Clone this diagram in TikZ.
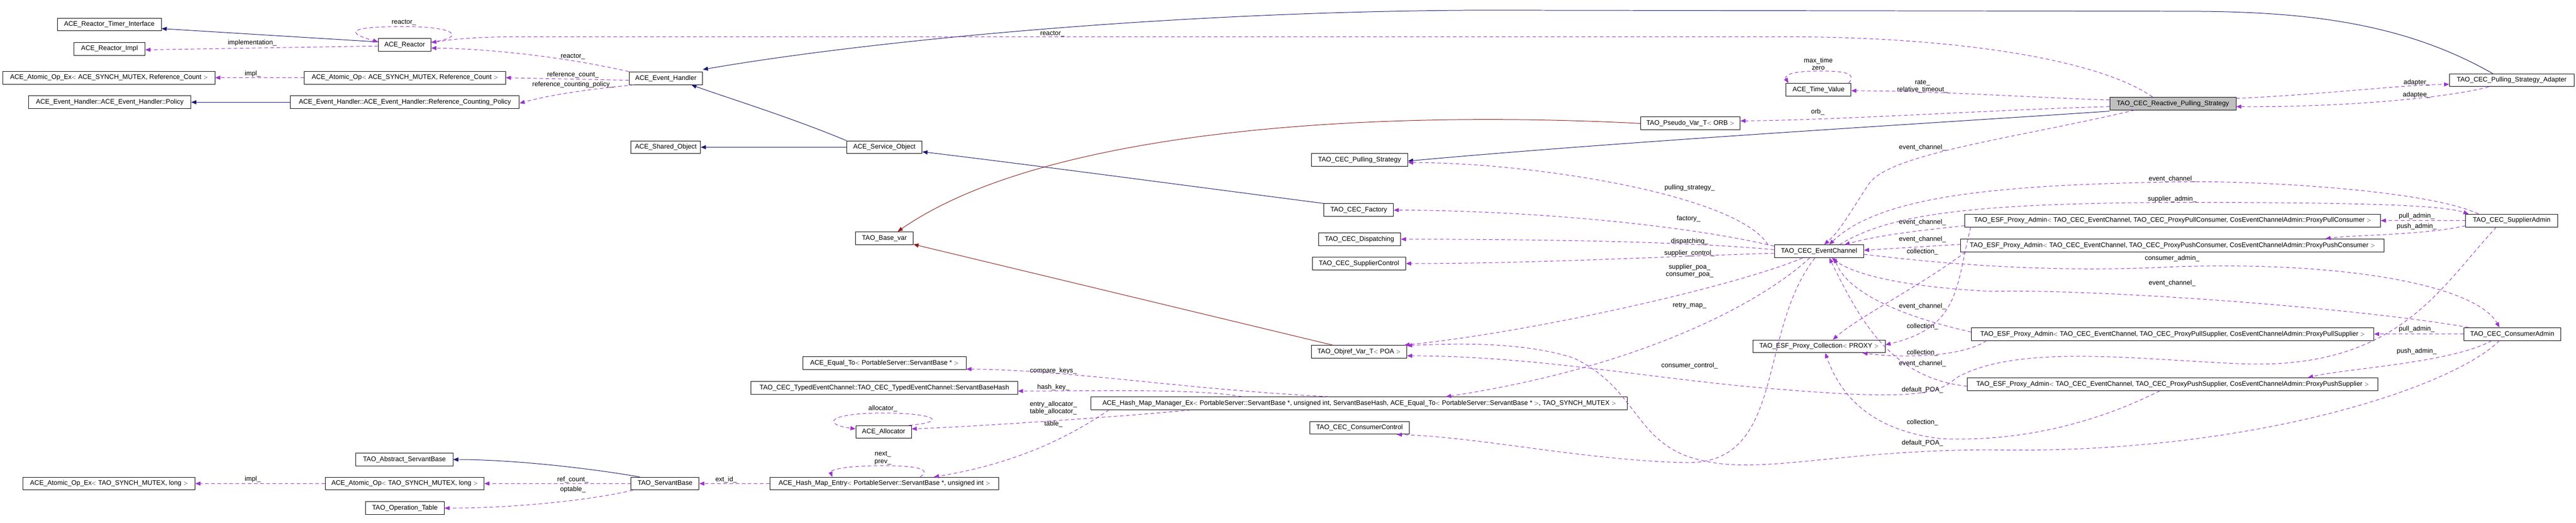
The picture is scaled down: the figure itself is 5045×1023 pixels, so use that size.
\documentclass[tikz,border=0pt]{standalone}
\usepackage{fontspec}
\setmainfont{Liberation Sans}
\usetikzlibrary{arrows.meta}
\definecolor{inhc}{RGB}{25,25,112}
\definecolor{usec}{RGB}{154,50,205}
\definecolor{tplc}{RGB}{139,26,26}
\definecolor{graybox}{RGB}{191,191,191}
\begin{document}
\begin{tikzpicture}[x=1pt,y=-1pt,
  box/.style={draw=black,line width=1pt,fill=white,minimum height=25pt,inner xsep=2pt,inner ysep=0pt,font=\fontsize{13}{15}\selectfont},
  lbl/.style={inner sep=0pt,align=center,font=\fontsize{13}{14.5}\selectfont},
  inh/.style={draw=inhc,line width=1pt,-{Triangle[length=10pt,width=8pt]}},
  tpl/.style={draw=tplc,line width=1pt,-{Triangle[length=10pt,width=8pt]}},
  use/.style={draw=usec,line width=1pt,dash pattern=on 7pt off 5pt,-{Triangle[length=10pt,width=8pt,fill=usec]}}]
\useasboundingbox (0,0) rectangle (5045,1023);
% nodes
\node[box,minimum width=204pt] (RTI) at (214,48) {ACE\_Reactor\_Timer\_Interface};
\node[box,minimum width=139pt] (RImpl) at (214.5,95.5) {ACE\_Reactor\_Impl};
\node[box,minimum width=103pt] (Reactor) at (792.5,88) {ACE\_Reactor};
\node[box,minimum width=415pt] (AOExA) at (213.5,152) {ACE\_Atomic\_Op\_Ex$<$ ACE\_SYNCH\_MUTEX, Reference\_Count $>$};
\node[box,minimum width=394pt] (AOA) at (793,152) {ACE\_Atomic\_Op$<$ ACE\_SYNCH\_MUTEX, Reference\_Count $>$};
\node[box,minimum width=318pt] (Policy) at (215,200) {ACE\_Event\_Handler::ACE\_Event\_Handler::Policy};
\node[box,minimum width=448pt] (RCP) at (793,200) {ACE\_Event\_Handler::ACE\_Event\_Handler::Reference\_Counting\_Policy};
\node[box,minimum width=144pt] (EH) at (1304,153) {ACE\_Event\_Handler};
\node[box,minimum width=136pt] (Shared) at (1304,288) {ACE\_Shared\_Object};
\node[box,minimum width=148pt] (Service) at (1732,288) {ACE\_Service\_Object};
\node[box,minimum width=113pt] (BaseVar) at (1732,466) {TAO\_Base\_var};
\node[box,minimum width=190pt] (AbsSB) at (792,899) {TAO\_Abstract\_ServantBase};
\node[box,minimum width=337pt] (AOExT) at (213.5,946) {ACE\_Atomic\_Op\_Ex$<$ TAO\_SYNCH\_MUTEX, long $>$};
\node[box,minimum width=311pt] (AOT) at (792.5,946) {ACE\_Atomic\_Op$<$ TAO\_SYNCH\_MUTEX, long $>$};
\node[box,minimum width=154pt] (OpT) at (793,994) {TAO\_Operation\_Table};
\node[box,minimum width=133pt] (SB) at (1302.5,946) {TAO\_ServantBase};
\node[box,minimum width=320pt] (EqTo) at (1732,710) {ACE\_Equal\_To$<$ PortableServer::ServantBase * $>$};
\node[box,minimum width=522pt] (SBHash) at (1732,759) {TAO\_CEC\_TypedEventChannel::TAO\_CEC\_TypedEventChannel::ServantBaseHash};
\node[box,minimum width=109pt] (Alloc) at (1730.5,845) {ACE\_Allocator};
\node[box,minimum width=448pt] (HEntry) at (1732,946) {ACE\_Hash\_Map\_Entry$<$ PortableServer::ServantBase *, unsigned int $>$};
\node[box,minimum width=1050pt] (HMgr) at (2662,789) {ACE\_Hash\_Map\_Manager\_Ex$<$ PortableServer::ServantBase *, unsigned int, ServantBaseHash, ACE\_Equal\_To$<$ PortableServer::ServantBase * $>$, TAO\_SYNCH\_MUTEX $>$};
\node[box,minimum width=189pt] (PullStrat) at (2662.5,313) {TAO\_CEC\_Pulling\_Strategy};
\node[box,minimum width=136pt] (Factory) at (2661,411) {TAO\_CEC\_Factory};
\node[box,minimum width=161pt] (Disp) at (2662.5,468) {TAO\_CEC\_Dispatching};
\node[box,minimum width=183pt] (SupCtrl) at (2661.5,515.5) {TAO\_CEC\_SupplierControl};
\node[box,minimum width=187pt] (ObjPOA) at (2661.5,688) {TAO\_Objref\_Var\_T$<$ POA $>$};
\node[box,minimum width=195pt] (ConsCtrl) at (2662.5,837) {TAO\_CEC\_ConsumerControl};
\node[box,minimum width=195pt] (PseudoORB) at (3310.5,241.5) {TAO\_Pseudo\_Var\_T$<$ ORB $>$};
\node[box,minimum width=127pt] (TimeV) at (3561.5,175.5) {ACE\_Time\_Value};
\node[box,minimum width=175pt] (EC) at (3562.5,491.5) {TAO\_CEC\_EventChannel};
\node[box,minimum width=259pt] (Coll) at (3562.5,677.5) {TAO\_ESF\_Proxy\_Collection$<$ PROXY $>$};
\node[box,minimum width=814pt] (PullCons) at (4255,431.5) {TAO\_ESF\_Proxy\_Admin$<$ TAO\_CEC\_EventChannel, TAO\_CEC\_ProxyPullConsumer, CosEventChannelAdmin::ProxyPullConsumer $>$};
\node[box,minimum width=829pt] (PushCons) at (4254.5,480) {TAO\_ESF\_Proxy\_Admin$<$ TAO\_CEC\_EventChannel, TAO\_CEC\_ProxyPushConsumer, CosEventChannelAdmin::ProxyPushConsumer $>$};
\node[box,minimum width=788pt] (PullSup) at (4255,653.5) {TAO\_ESF\_Proxy\_Admin$<$ TAO\_CEC\_EventChannel, TAO\_CEC\_ProxyPullSupplier, CosEventChannelAdmin::ProxyPullSupplier $>$};
\node[box,minimum width=804pt] (PushSup) at (4255,751.5) {TAO\_ESF\_Proxy\_Admin$<$ TAO\_CEC\_EventChannel, TAO\_CEC\_ProxyPushSupplier, CosEventChannelAdmin::ProxyPushSupplier $>$};
\node[box,minimum width=180pt] (SupAdm) at (4919,431.5) {TAO\_CEC\_SupplierAdmin};
\node[box,minimum width=190pt] (ConsAdm) at (4920,653.5) {TAO\_CEC\_ConsumerAdmin};
\node[box,minimum width=247pt,fill=graybox] (React) at (4255.5,202.5) {TAO\_CEC\_Reactive\_Pulling\_Strategy};
\node[box,minimum width=244pt] (Adapt) at (4919,157) {TAO\_CEC\_Pulling\_Strategy\_Adapter};
% labels
\node[lbl] (L1) at (791,44) {reactor\_};
\node[lbl] (L2) at (494,84) {implementation\_};
\node[lbl] (L3) at (495,144) {impl\_};
\node[lbl] (L4) at (1122,111) {reactor\_};
\node[lbl] (L5) at (1122,146) {reference\_count\_};
\node[lbl] (L6) at (1122,166) {reference\_counting\_policy\_};
\node[lbl] (L7) at (2061,66) {reactor\_};
\node[lbl] (L8) at (3561,125) {max\_time\\zero};
\node[lbl] (L9) at (3765,169) {rate\_\\relative\_timeout\_};
\node[lbl] (L10) at (3560,219) {orb\_};
\node[lbl] (L11) at (3765,289) {event\_channel\_};
\node[lbl] (L12) at (4733,162) {adapter\_};
\node[lbl] (L13) at (4733,186) {adaptee\_};
\node[lbl] (L14) at (4254,350) {event\_channel\_};
\node[lbl] (L15) at (4254,390) {supplier\_admin\_};
\node[lbl] (L16) at (3309,367) {pulling\_strategy\_};
\node[lbl] (L17) at (3307,428) {factory\_};
\node[lbl] (L18) at (3309,472) {dispatching\_};
\node[lbl] (L19) at (3309,496) {supplier\_control\_};
\node[lbl] (L20) at (3309,530) {supplier\_poa\_\\consumer\_poa\_};
\node[lbl] (L21) at (3309,598) {retry\_map\_};
\node[lbl] (L22) at (3309,715) {consumer\_control\_};
\node[lbl] (L23) at (3765,435) {event\_channel\_};
\node[lbl] (L24) at (3765,468) {event\_channel\_};
\node[lbl] (L25) at (3765,492) {collection\_};
\node[lbl] (L26) at (4733,423) {pull\_admin\_};
\node[lbl] (L27) at (4733,443) {push\_admin\_};
\node[lbl] (L28) at (4254,506) {consumer\_admin\_};
\node[lbl] (L29) at (4254,554) {event\_channel\_};
\node[lbl] (L30) at (3765,599) {event\_channel\_};
\node[lbl] (L31) at (3765,639) {collection\_};
\node[lbl] (L32) at (3765,690) {collection\_};
\node[lbl] (L33) at (3765,711) {event\_channel\_};
\node[lbl] (L34) at (3765,763) {default\_POA\_};
\node[lbl] (L35) at (3765,826) {collection\_};
\node[lbl] (L36) at (3765,867) {default\_POA\_};
\node[lbl] (L37) at (4733,644) {pull\_admin\_};
\node[lbl] (L38) at (4733,687) {push\_admin\_};
\node[lbl] (L39) at (2063,726) {compare\_keys\_};
\node[lbl] (L40) at (2063,758) {hash\_key\_};
\node[lbl] (L41) at (2063,798) {entry\_allocator\_\\table\_allocator\_};
\node[lbl] (L42) at (2063,830) {table\_};
\node[lbl] (L43) at (1729,799) {allocator\_};
\node[lbl] (L44) at (1729,896) {next\_\\prev\_};
\node[lbl] (L45) at (1422,938) {ext\_id\_};
\node[lbl] (L46) at (1122,938) {ref\_count\_};
\node[lbl] (L47) at (1122,958) {optable\_};
\node[lbl] (L48) at (495,938) {impl\_};
% inheritance
\draw[inh] ([yshift=6pt]Reactor.west) -- ([yshift=-8pt]RTI.east);
\draw[inh] (RCP.west) -- (Policy.east);
\draw[inh] (Service.north west) .. controls (1550,230) and (1420,190) .. ([xshift=50pt]EH.south);
\draw[inh] (Service.west) -- (Shared.east);
\draw[inh] (Factory.north west) .. controls (2300,360) and (2000,320) .. ([yshift=-9pt]Service.east);
\draw[inh] ([xshift=-37pt]Adapt.north) .. controls (4700,40) and (4500,22) .. (4272,22) -- (2900,20) .. controls (2300,22) and (1700,80) .. ([yshift=4pt]EH.north east);
\draw[inh] ([yshift=-2pt]React.south west) .. controls (3800,240) and (3200,275) .. ([yshift=-2pt]PullStrat.east);
\draw[inh] ([xshift=-50pt]SB.north) .. controls (1150,915) and (1000,899) .. (AbsSB.east);
\draw[tpl] (PseudoORB.west) .. controls (2700,215) and (2050,250) .. ([xshift=26pt]BaseVar.north);
\draw[tpl] ([xshift=-52pt]ObjPOA.north) -- ([yshift=-12pt]BaseVar.east);
% usage
\draw[use] ([yshift=6pt]Reactor.east) .. controls (910,75) and (900,52) .. (792,52) .. controls (690,52) and (670,62) .. ([yshift=6pt]Reactor.west);
\draw[use] ([yshift=-2pt]Reactor.west) -- ([yshift=-2pt]RImpl.east);
\draw[use] (AOA.west) -- (AOExA.east);
\draw[use] (EH.north west) .. controls (1100,110) and (950,95) .. ([yshift=-6pt]Reactor.east);
\draw[use] ([yshift=-4pt]EH.west) -- (AOA.east);
\draw[use] ([xshift=10pt]EH.south west) .. controls (1150,175) and (1080,185) .. ([yshift=-2pt]RCP.east);
\draw[use] ([xshift=-40pt]React.north) .. controls (4100,110) and (3800,72) .. (3500,72) -- (1000,72) .. controls (900,73) and (870,80) .. ([yshift=5pt]Reactor.east);
\draw[use] ([yshift=7pt]React.west) .. controls (4000,192) and (3800,178) .. ([yshift=-2pt]TimeV.east);
\draw[use] ([xshift=-5pt]TimeV.north east) .. controls (3640,140) and (3600,139) .. (3561,139) .. controls (3500,139) and (3495,150) .. ([xshift=5pt]TimeV.north west);
\draw[use] ([yshift=-6pt]React.west) .. controls (3900,215) and (3600,235) .. ([yshift=5pt]PseudoORB.east);
\draw[use] ([xshift=-75pt]React.south) .. controls (3950,270) and (3700,300) .. (3660,360) .. controls (3620,420) and (3605,450) .. ([xshift=10pt]EC.north);
\draw[use] ([yshift=10pt]React.east) .. controls (4550,185) and (4700,166) .. ([yshift=-8pt]Adapt.west);
\draw[use] ([xshift=-45pt]Adapt.south) .. controls (4800,190) and (4600,210) .. ([yshift=-6pt]React.east);
\draw[use] ([xshift=-100pt]EC.north) .. controls (3400,380) and (3000,318) .. ([yshift=-5pt]PullStrat.east);
\draw[use] ([yshift=10pt]EC.west) .. controls (3300,440) and (3000,412) .. (Factory.east);
\draw[use] ([yshift=3pt]EC.west) .. controls (3300,472) and (3000,468) .. (Disp.east);
\draw[use] ([yshift=-4pt]EC.west) .. controls (3300,500) and (3000,516) .. (SupCtrl.east);
\draw[use] ([xshift=-32pt]EC.south) .. controls (3400,560) and (3000,650) .. ([xshift=-5pt]ObjPOA.north east);
\draw[use] ([xshift=-18pt]EC.south) .. controls (3440,600) and (3200,720) .. ([xshift=170pt]HMgr.north);
\draw[use] ([xshift=-8pt]EC.south) .. controls (3440,650) and (3500,910) .. (3300,905) .. controls (3100,900) and (2900,855) .. ([xshift=-25pt]ConsCtrl.south east);
\draw[use] ([xshift=-65pt]SupAdm.north) .. controls (4750,370) and (4400,352) .. (4254,356) .. controls (3900,362) and (3680,385) .. ([xshift=20pt]EC.north);
\draw[use] ([xshift=40pt]EC.north) .. controls (3700,420) and (3850,398) .. (4254,396) .. controls (4600,396) and (4780,400) .. ([xshift=6pt]SupAdm.north west);
\draw[use] ([yshift=-6pt]EC.east) .. controls (3900,528) and (4100,530) .. (4254,522) .. controls (4600,510) and (4850,560) .. ([xshift=-25pt]ConsAdm.north);
\draw[use] ([xshift=10pt]ConsAdm.north west) .. controls (4600,600) and (4100,565) .. (3900,570) .. controls (3700,560) and (3620,530) .. ([xshift=25pt]EC.south);
\draw[use] ([yshift=-10pt]PullCons.west) .. controls (3750,452) and (3680,460) .. ([xshift=50pt]EC.north);
\draw[use] ([yshift=2pt]PushCons.west) -- ([yshift=2pt]EC.east);
\draw[use] ([xshift=12pt]PullCons.south west) .. controls (3830,560) and (3840,640) .. ([yshift=3pt]Coll.east);
\draw[use] ([xshift=10pt]PushCons.south west) .. controls (3760,560) and (3640,620) .. ([xshift=27pt]Coll.north);
\draw[use] ([xshift=30pt]PullSup.south west) .. controls (3840,700) and (3720,700) .. ([xshift=-45pt]Coll.south east);
\draw[use] ([xshift=-25pt]PushSup.south) .. controls (4100,830) and (3950,865) .. (3800,858) .. controls (3650,840) and (3600,760) .. ([xshift=12pt]Coll.south);
\draw[use] ([yshift=4pt]PullSup.west) .. controls (3750,625) and (3620,580) .. ([xshift=30pt]EC.south);
\draw[use] ([yshift=-4pt]PushSup.west) .. controls (3700,740) and (3640,620) .. ([xshift=20pt]EC.south);
\draw[use] (SupAdm.west) -- (PullCons.east);
\draw[use] ([yshift=-10pt]SupAdm.west) .. controls (4750,460) and (4600,460) .. ([xshift=300pt]PushCons.north);
\draw[use] (ConsAdm.west) -- (PullSup.east);
\draw[use] ([xshift=-40pt]ConsAdm.south) .. controls (4800,710) and (4600,720) .. ([xshift=265pt]PushSup.north);
\draw[use] ([xshift=-30pt]SupAdm.south) .. controls (4780,560) and (4700,720) .. (4400,712) .. controls (4200,705) and (3950,670) .. (3830,740) .. controls (3790,780) and (3700,780) .. (3430,757) .. controls (3200,735) and (3000,697) .. ([yshift=-8pt]ObjPOA.east);
\draw[use] ([xshift=-25pt]ConsAdm.south) .. controls (4800,760) and (4400,890) .. (3900,880) .. controls (3600,880) and (3450,930) .. (3330,900) .. controls (3200,870) and (3210,760) .. (3081,700) .. controls (2980,668) and (2850,672) .. ([yshift=12pt]ObjPOA.east);
\draw[use] ([xshift=-60pt]HMgr.north) .. controls (2300,760) and (2100,724) .. ([yshift=-12pt]EqTo.east);
\draw[use] ([xshift=-230pt]HMgr.north) .. controls (2350,760) and (2150,765) .. ([yshift=-6pt]SBHash.east);
\draw[use] ([xshift=-330pt]HMgr.south) .. controls (2200,815) and (1900,835) .. ([yshift=6pt]Alloc.east);
\draw[use] ([xshift=-5pt]Alloc.north east) .. controls (1860,825) and (1830,808) .. (1730,808) .. controls (1620,808) and (1610,830) .. ([yshift=6pt]Alloc.west);
\draw[use] ([xshift=-490pt]HMgr.south) .. controls (2100,850) and (2000,905) .. ([xshift=97pt]HEntry.north);
\draw[use] ([xshift=70pt]HEntry.north) .. controls (1830,915) and (1780,911) .. (1730,911) .. controls (1650,911) and (1625,920) .. ([xshift=-102pt]HEntry.north);
\draw[use] (HEntry.west) -- (SB.east);
\draw[use] (SB.west) -- (AOT.east);
\draw[use] ([xshift=4pt]SB.south west) .. controls (1150,980) and (1000,994) .. (OpT.east);
\draw[use] (AOT.west) -- (AOExT.east);
\end{tikzpicture}
\end{document}
